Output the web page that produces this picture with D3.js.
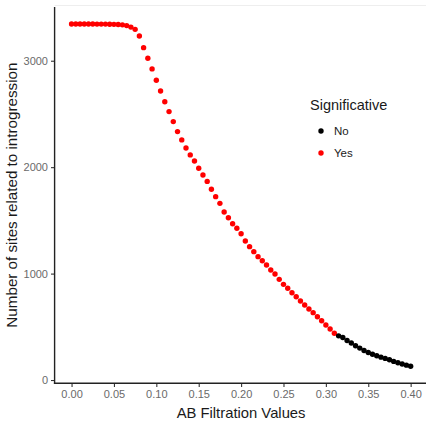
<!DOCTYPE html>
<html>
<head>
<meta charset="utf-8">
<script src="https://cdn.jsdelivr.net/npm/d3@7"></script>
<style>
  html, body { margin: 0; padding: 0; background: #fff; }
  svg { display: block; font-family: "Liberation Sans", Arial, sans-serif; }
</style>
</head>
<body>
<svg id="chart" width="426" height="426"></svg>
<script>
// ---- data ----
const abValues = [
  0.000, 0.005, 0.010, 0.015, 0.020, 0.025, 0.030, 0.035, 0.040, 0.045,
  0.050, 0.055, 0.060, 0.065, 0.070, 0.075, 0.080, 0.085, 0.090, 0.095,
  0.100, 0.105, 0.110, 0.115, 0.120, 0.125, 0.130, 0.135, 0.140, 0.145,
  0.150, 0.155, 0.160, 0.165, 0.170, 0.175, 0.180, 0.185, 0.190, 0.195,
  0.200, 0.205, 0.210, 0.215, 0.220, 0.225, 0.230, 0.235, 0.240, 0.245,
  0.250, 0.255, 0.260, 0.265, 0.270, 0.275, 0.280, 0.285, 0.290, 0.295,
  0.300, 0.305, 0.310, 0.315, 0.320, 0.325, 0.330, 0.335, 0.340, 0.345,
  0.350, 0.355, 0.360, 0.365, 0.370, 0.375, 0.380, 0.385, 0.390, 0.395,
  0.400
];
const siteCounts = [
  3345, 3345, 3345, 3345, 3345, 3345, 3344, 3344, 3344, 3343,
  3342, 3340, 3337, 3330, 3316, 3295, 3232, 3123, 3023, 2923,
  2817, 2716, 2615, 2522, 2428, 2334, 2256, 2180, 2115, 2058,
  1990, 1927, 1866, 1792, 1723, 1660, 1579, 1525, 1469, 1426,
  1375, 1306, 1253, 1206, 1159, 1120, 1081, 1034, 996, 946,
  899, 862, 820, 783, 742, 705, 667, 633, 595, 557,
  517, 479, 439, 415, 400, 372, 348, 322, 300, 278,
  258, 242, 228, 215, 203, 190, 175, 162, 150, 140,
  130
];
const significative = abValues.map(v => v <= 0.3101 ? "Yes" : "No");
const legendLevels = ["No", "Yes"];
const levelColors = ["#000000", "#FF0000"];
const xTicks = [0.00, 0.05, 0.10, 0.15, 0.20, 0.25, 0.30, 0.35, 0.40];
const yTicks = [0, 1000, 2000, 3000];

const data = abValues.map((x, i) => ({ x, y: siteCounts[i], sig: significative[i] }));

// ---- layout ----
const svg = d3.select("#chart");
const panel = { left: 54.6, right: 427.6, top: 6.9, bottom: 383.3 };

const xExt = d3.extent(abValues), yExt = d3.extent(siteCounts);
const xPad = (xExt[1] - xExt[0]) * 0.05, yPad = (yExt[1] - yExt[0]) * 0.05;
const x = d3.scaleLinear().domain([xExt[0] - xPad, xExt[1] + xPad]).range([panel.left, panel.right]);
const y = d3.scaleLinear().domain([yExt[0] - yPad, yExt[1] + yPad]).range([panel.bottom, panel.top]);
const color = d3.scaleOrdinal().domain(legendLevels).range(levelColors);

// faint top border line
svg.append("line")
  .attr("x1", panel.left).attr("x2", 426)
  .attr("y1", 5.5).attr("y2", 5.5)
  .attr("stroke", "#eeeeee").attr("stroke-width", 1);

// axes
const xAxis = d3.axisBottom(x).tickValues(xTicks).tickFormat(d3.format(".2f")).tickSize(3.6).tickPadding(3.5);
const yAxis = d3.axisLeft(y).tickValues(yTicks).tickFormat(d3.format("d")).tickSize(3.6).tickPadding(3);

const gx = svg.append("g").attr("transform", `translate(0,${panel.bottom})`).call(xAxis);
const gy = svg.append("g").attr("transform", `translate(${panel.left},0)`).call(yAxis);

[gx, gy].forEach(g => {
  g.select(".domain").remove();
  g.selectAll(".tick line").attr("stroke", "#333333").attr("stroke-width", 1.1);
  g.selectAll(".tick text").attr("fill", "#6a6a6a").style("font-size", "11px");
});

// axis lines
svg.append("line")
  .attr("x1", panel.left).attr("x2", panel.left)
  .attr("y1", panel.top).attr("y2", panel.bottom + 0.7)
  .attr("stroke", "#222").attr("stroke-width", 1.4);
svg.append("line")
  .attr("x1", panel.left - 0.7).attr("x2", 426)
  .attr("y1", panel.bottom).attr("y2", panel.bottom)
  .attr("stroke", "#222").attr("stroke-width", 1.4);

// points
svg.append("g").selectAll("circle")
  .data(data)
  .join("circle")
  .attr("cx", d => x(d.x))
  .attr("cy", d => y(d.y))
  .attr("r", 2.7)
  .attr("fill", d => color(d.sig));

// axis titles
svg.append("text")
  .attr("x", (panel.left + panel.right) / 2)
  .attr("y", 418)
  .attr("text-anchor", "middle")
  .attr("fill", "#1a1a1a")
  .style("font-size", "14.8px")
  .text("AB Filtration Values");

svg.append("text")
  .attr("transform", `translate(17,${(panel.top + panel.bottom) / 2}) rotate(-90)`)
  .attr("text-anchor", "middle")
  .attr("fill", "#1a1a1a")
  .style("font-size", "15.2px")
  .text("Number of sites related to introgression");

// legend
const lg = svg.append("g").attr("transform", "translate(310,0)");
lg.append("text")
  .attr("x", 0).attr("y", 110)
  .attr("fill", "#1a1a1a")
  .style("font-size", "14.5px")
  .text("Significative");
const items = lg.selectAll("g.item")
  .data(legendLevels)
  .join("g")
  .attr("class", "item")
  .attr("transform", (d, i) => `translate(0,${131 + i * 22})`);
items.append("circle")
  .attr("cx", 11).attr("cy", 0).attr("r", 2.7)
  .attr("fill", d => color(d));
items.append("text")
  .attr("x", 24).attr("y", 4)
  .attr("fill", "#1a1a1a")
  .style("font-size", "11.5px")
  .text(d => d);
</script>
</body>
</html>
